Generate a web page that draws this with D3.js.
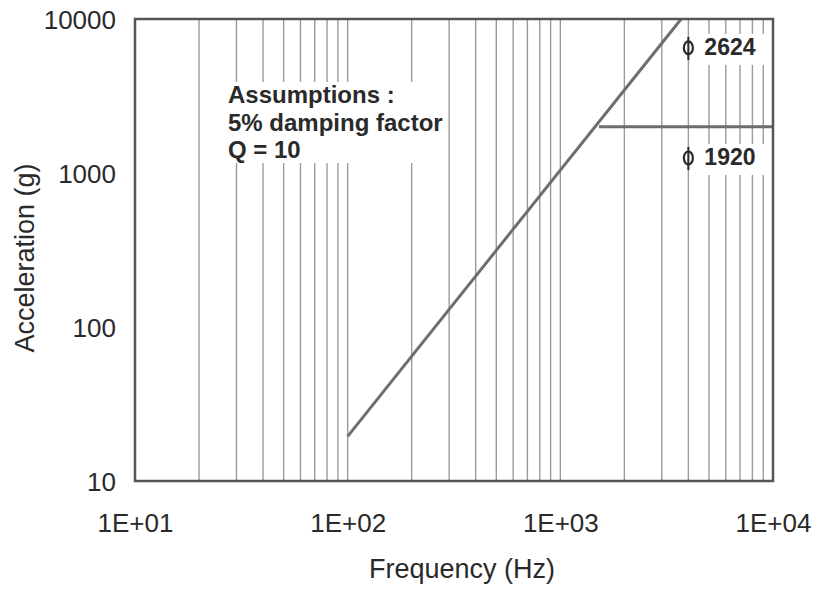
<!DOCTYPE html>
<html>
<head>
<meta charset="utf-8">
<script src="https://cdn.jsdelivr.net/npm/d3@7"></script>
<style>
  body { margin: 0; background: #fff; }
  svg { font-family: "Liberation Sans", Arial, sans-serif; }
</style>
</head>
<body>
<svg id="chart" width="814" height="590"></svg>
<script>
// data
const xTicks = [10, 100, 1000, 10000];
const xTickLabels = ["1E+01", "1E+02", "1E+03", "1E+04"];
const yTicks = [10, 100, 1000, 10000];
const yTickLabels = ["10", "100", "1000", "10000"];

// steep line (g rises with frequency)
const slopeFreq = [100, 3700];
const slopeAcc = [19.5, 10000];
// flat line from the knee
const flatFreq = [1520, 10000];
const flatAcc = [2000, 2000];

const notes = ["Assumptions :", "5% damping factor", "Q = 10"];
const lineLabels = [
  { name: "2624", freq: 4000, acc: 6300 },
  { name: "1920", freq: 4000, acc: 1215 }
];

const svg = d3.select("#chart");
const margin = { left: 135, top: 19, right: 41, bottom: 109 };
const W = 814, H = 590;

const x = d3.scaleLog().domain([10, 10000]).range([margin.left, W - margin.right]);
const y = d3.scaleLog().domain([10, 10000]).range([H - margin.bottom, margin.top]);

// vertical gridlines at every 1..9 x 10^k
let grid = [];
for (let k = 1; k < 4; k++) {
  for (let m = 1; m <= 9; m++) {
    let v = m * Math.pow(10, k);
    if (v > 10 && v < 10000) grid.push(v);
  }
}
svg.append("g")
  .selectAll("line")
  .data(grid)
  .join("line")
  .attr("x1", d => x(d)).attr("x2", d => x(d))
  .attr("y1", y(10000)).attr("y2", y(10))
  .attr("stroke", "#9a9a9a")
  .attr("stroke-width", 1.4);

// annotation box hides gridlines behind it
svg.append("rect")
  .attr("x", 224).attr("y", 82)
  .attr("width", 216).attr("height", 81)
  .attr("fill", "#fff");

const noteG = svg.append("g");
notes.forEach((t, i) => {
  noteG.append("text")
    .attr("x", 228).attr("y", 103 + i * 27.5)
    .attr("font-size", 24).attr("font-weight", "bold")
    .attr("fill", "#2a2a2a")
    .text(t);
});

// line labels
lineLabels.forEach(l => {
  let lx = x(l.freq), ly = y(l.acc);
  svg.append("rect")
    .attr("x", lx + 11).attr("y", ly - 16)
    .attr("width", 66).attr("height", 31)
    .attr("fill", "#fff");
  svg.append("ellipse")
    .attr("cx", lx).attr("cy", ly - 2)
    .attr("rx", 4.5).attr("ry", 6.5)
    .attr("fill", "none").attr("stroke", "#2a2a2a").attr("stroke-width", 2.2);
  svg.append("line")
    .attr("x1", lx).attr("x2", lx)
    .attr("y1", ly - 13).attr("y2", ly + 10)
    .attr("stroke", "#2a2a2a").attr("stroke-width", 2);
  svg.append("text")
    .attr("x", lx + 16).attr("y", ly + 5)
    .attr("font-size", 23).attr("font-weight", "bold")
    .attr("fill", "#2a2a2a")
    .text(l.name);
});

// data lines
const lineGen = d3.line().x(d => x(d[0])).y(d => y(d[1]));
svg.append("path")
  .datum(slopeFreq.map((f, i) => [f, slopeAcc[i]]))
  .attr("d", lineGen)
  .attr("fill", "none").attr("stroke", "#6e6e6e").attr("stroke-width", 3);
svg.append("path")
  .datum(flatFreq.map((f, i) => [f, flatAcc[i]]))
  .attr("d", lineGen)
  .attr("fill", "none").attr("stroke", "#6e6e6e").attr("stroke-width", 3);

// frame
svg.append("rect")
  .attr("x", x(10)).attr("y", y(10000))
  .attr("width", x(10000) - x(10)).attr("height", y(10) - y(10000))
  .attr("fill", "none").attr("stroke", "#555").attr("stroke-width", 2.5);

// axes tick labels
const xAxis = d3.axisBottom(x).tickValues(xTicks)
  .tickFormat((d, i) => xTickLabels[i]).tickSize(0).tickPadding(33);
svg.append("g")
  .attr("transform", `translate(0,${y(10)})`)
  .call(xAxis)
  .call(g => g.select(".domain").remove())
  .selectAll("text")
  .attr("font-size", 26).attr("fill", "#2a2a2a")
  .attr("font-family", "Liberation Sans, Arial, sans-serif");

const yAxis = d3.axisLeft(y).tickValues(yTicks)
  .tickFormat((d, i) => yTickLabels[i]).tickSize(0).tickPadding(19);
svg.append("g")
  .attr("transform", `translate(${x(10)},0)`)
  .call(yAxis)
  .call(g => g.select(".domain").remove())
  .selectAll("text")
  .attr("font-size", 26).attr("fill", "#2a2a2a")
  .attr("dy", "0.36em")
  .attr("font-family", "Liberation Sans, Arial, sans-serif");

// axis titles
svg.append("text")
  .attr("x", 462).attr("y", 578)
  .attr("text-anchor", "middle")
  .attr("font-size", 27).attr("fill", "#2a2a2a")
  .text("Frequency (Hz)");

svg.append("text")
  .attr("transform", "translate(34,258) rotate(-90)")
  .attr("text-anchor", "middle")
  .attr("font-size", 27).attr("fill", "#2a2a2a")
  .text("Acceleration (g)");
</script>
</body>
</html>
